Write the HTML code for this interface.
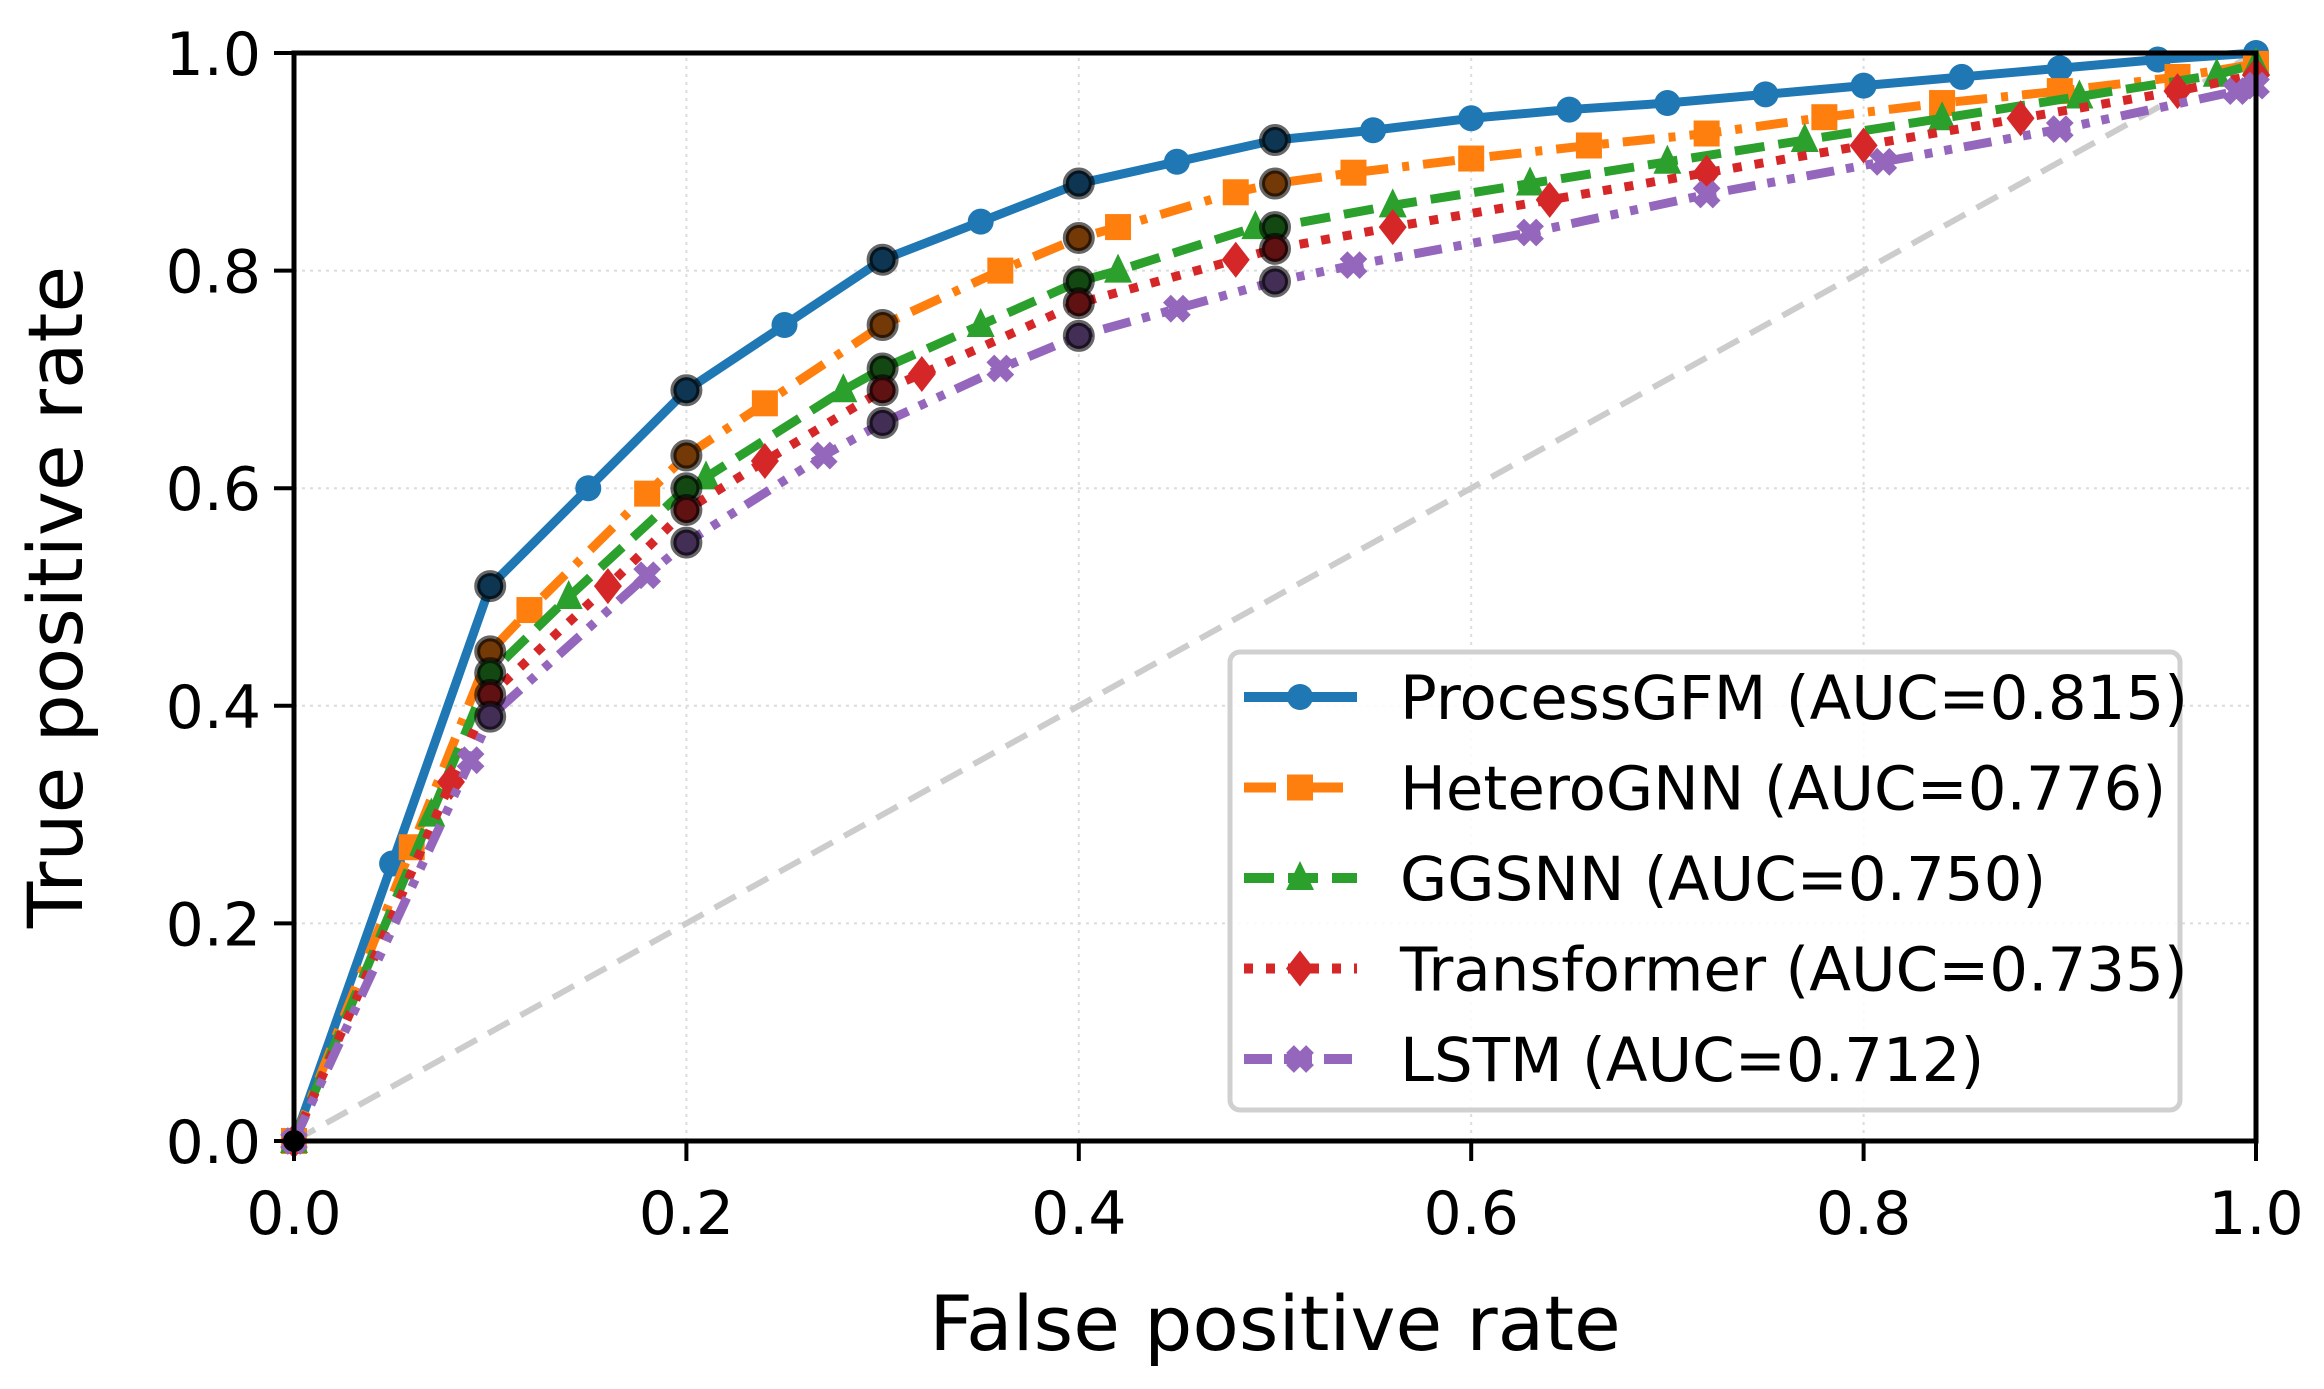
<!DOCTYPE html>
<html><head><meta charset="utf-8"><style>
html,body{margin:0;padding:0;background:#fff;}
svg{display:block;font-family:"DejaVu Sans","Liberation Sans",sans-serif;}
</style></head><body>
<svg id="chart" width="2324" height="1389" viewBox="0 0 2324 1389" xmlns="http://www.w3.org/2000/svg">
<g id="grid"></g>
<g id="series"></g>
<g id="axes"></g>
<g id="legend"></g>
</svg>
<script>
const tickValues = [0, 0.2, 0.4, 0.6, 0.8, 1.0];
const tickLabels = ["0.0", "0.2", "0.4", "0.6", "0.8", "1.0"];
const seriesNames = ["ProcessGFM (AUC=0.815)", "HeteroGNN (AUC=0.776)", "GGSNN (AUC=0.750)", "Transformer (AUC=0.735)", "LSTM (AUC=0.712)"];
const gfmFpr = [0, 0.05, 0.1, 0.15, 0.2, 0.25, 0.3, 0.35, 0.4, 0.45, 0.5, 0.55, 0.6, 0.65, 0.7, 0.75, 0.8, 0.85, 0.9, 0.95, 1.0];
const gfmTpr = [0, 0.255, 0.51, 0.60, 0.69, 0.75, 0.81, 0.845, 0.88, 0.90, 0.92, 0.929, 0.94, 0.948, 0.954, 0.962, 0.970, 0.978, 0.986, 0.994, 1.0];
const hetFpr = [0, 0.06, 0.1, 0.12, 0.18, 0.2, 0.24, 0.3, 0.36, 0.4, 0.42, 0.48, 0.5, 0.54, 0.6, 0.66, 0.72, 0.78, 0.84, 0.9, 0.96, 1.0];
const hetTpr = [0, 0.27, 0.45, 0.488, 0.595, 0.63, 0.678, 0.75, 0.80, 0.83, 0.84, 0.872, 0.88, 0.89, 0.903, 0.915, 0.926, 0.941, 0.954, 0.965, 0.978, 0.99];
const ggsFpr = [0, 0.07, 0.1, 0.14, 0.2, 0.21, 0.28, 0.3, 0.35, 0.4, 0.42, 0.49, 0.5, 0.56, 0.63, 0.7, 0.77, 0.84, 0.91, 0.98, 1.0];
const ggsTpr = [0, 0.30, 0.43, 0.50, 0.60, 0.61, 0.69, 0.71, 0.75, 0.79, 0.80, 0.84, 0.84, 0.86, 0.88, 0.90, 0.92, 0.94, 0.96, 0.98, 0.99];
const trfFpr = [0, 0.08, 0.1, 0.16, 0.2, 0.24, 0.3, 0.32, 0.4, 0.48, 0.5, 0.56, 0.64, 0.72, 0.8, 0.88, 0.96, 1.0];
const trfTpr = [0, 0.33, 0.41, 0.51, 0.58, 0.625, 0.69, 0.705, 0.77, 0.81, 0.82, 0.84, 0.865, 0.89, 0.915, 0.94, 0.965, 0.98];
const lstFpr = [0, 0.09, 0.1, 0.18, 0.2, 0.27, 0.3, 0.36, 0.4, 0.45, 0.5, 0.54, 0.63, 0.72, 0.81, 0.9, 0.99, 1.0];
const lstTpr = [0, 0.35, 0.39, 0.52, 0.55, 0.63, 0.66, 0.71, 0.74, 0.765, 0.79, 0.805, 0.835, 0.87, 0.90, 0.93, 0.965, 0.97];
const highlightFpr = [0.1, 0.2, 0.3, 0.4, 0.5];
</script>
<script>
const NS = "http://www.w3.org/2000/svg";
const X0 = 294, X1 = 2256, Y0 = 1141, Y1 = 53;
function sx(v){ return X0 + v * (X1 - X0); }
function sy(v){ return Y0 - v * (Y0 - Y1); }
function mk(tag, attrs, parent){
  const e = document.createElementNS(NS, tag);
  for (const k in attrs) e.setAttribute(k, attrs[k]);
  parent.appendChild(e);
  return e;
}
const grid = document.getElementById('grid');
const seriesG = document.getElementById('series');
const axes = document.getElementById('axes');
const legend = document.getElementById('legend');

tickValues.forEach((v, i) => {
  if (i === 0 || i === tickValues.length - 1) return;
  const gx = mk('line', {x1: sx(v), x2: sx(v), y1: Y0, y2: Y1, stroke: '#dcdcdc', 'stroke-width': 2, 'stroke-dasharray': '3 5'}, grid);
  
  
  const gy = mk('line', {x1: X0, x2: X1, y1: sy(v), y2: sy(v), stroke: '#dcdcdc', 'stroke-width': 2, 'stroke-dasharray': '3 5'}, grid);
  
  
});
const diag = mk('line', {x1: sx(0), y1: sy(0), x2: sx(1), y2: sy(1), stroke: '#cccccc', 'stroke-width': 6, 'stroke-dasharray': '24 13'}, grid);



const styles = [
  {fpr: gfmFpr, tpr: gfmTpr, color: '#1f77b4', dash: '', marker: 'circle', name: 'processgfm'},
  {fpr: hetFpr, tpr: hetTpr, color: '#ff7f0e', dash: '32 14 7 14', marker: 'square', name: 'heterognn'},
  {fpr: ggsFpr, tpr: ggsTpr, color: '#2ca02c', dash: '30 14', marker: 'triangle', name: 'ggsnn'},
  {fpr: trfFpr, tpr: trfTpr, color: '#d62728', dash: '9 13', marker: 'diamond', name: 'transformer'},
  {fpr: lstFpr, tpr: lstTpr, color: '#9467bd', dash: '28 12 8 12 8 12', marker: 'x', name: 'lstm'}
];

function drawMarker(type, x, y, color, parent){
  let e;
  if (type === 'circle') e = mk('circle', {cx: x, cy: y, r: 13, fill: color}, parent);
  else if (type === 'square') e = mk('rect', {x: x - 13, y: y - 13, width: 26, height: 26, fill: color}, parent);
  else if (type === 'triangle') e = mk('polygon', {points: `${x},${y-17} ${x-14},${y+12} ${x+14},${y+12}`, fill: color}, parent);
  else if (type === 'diamond') e = mk('polygon', {points: `${x},${y-18} ${x+14},${y} ${x},${y+18} ${x-14},${y}`, fill: color}, parent);
  else {
    e = mk('path', {d: `M${x-10},${y-10}L${x+10},${y+10}M${x+10},${y-10}L${x-10},${y+10}`, stroke: color, 'stroke-width': 11, 'stroke-linecap': 'butt'}, parent);
  }
  return e;
}

styles.forEach((s) => {
  const g = mk('g', {}, seriesG);
  
  
  const pts = s.fpr.map((f, i) => sx(f) + ',' + sy(s.tpr[i])).join(' ');
  const attrs = {points: pts, fill: 'none', stroke: s.color, 'stroke-width': 9, 'stroke-linejoin': 'round'};
  if (s.dash) attrs['stroke-dasharray'] = s.dash;
  const line = mk('polyline', attrs, g);
  
  
  s.fpr.forEach((f, i) => {
    if (highlightFpr.indexOf(f) >= 0) return;
    const m = drawMarker(s.marker, sx(f), sy(s.tpr[i]), s.color, g);
    
    
  });
});
styles.forEach((s) => {
  s.fpr.forEach((f, i) => {
    if (highlightFpr.indexOf(f) < 0) return;
    const c = mk('circle', {cx: sx(f), cy: sy(s.tpr[i]), r: 13, fill: s.color, stroke: 'rgba(0,0,0,0.6)', 'stroke-width': 6}, seriesG);
    
    
    const o = mk('circle', {cx: sx(f), cy: sy(s.tpr[i]), r: 13, fill: 'rgba(0,0,0,0.55)'}, seriesG);
    
    
  });
});
const origin = mk('circle', {cx: sx(0), cy: sy(0), r: 11, fill: '#000'}, seriesG);



const frame = mk('rect', {x: X0, y: Y1, width: X1 - X0, height: Y0 - Y1, fill: 'none', stroke: '#000', 'stroke-width': 5}, axes);


tickValues.forEach((v, i) => {
  const tx = mk('line', {x1: sx(v), x2: sx(v), y1: Y0, y2: Y0 + 20, stroke: '#000', 'stroke-width': 4}, axes);
  
  
  const lx = mk('text', {x: sx(v), y: Y0 + 93, 'text-anchor': 'middle', 'font-size': 60, fill: '#000'}, axes);
  lx.textContent = tickLabels[i];
  
  
  const ty = mk('line', {x1: X0 - 20, x2: X0, y1: sy(v), y2: sy(v), stroke: '#000', 'stroke-width': 4}, axes);
  
  
  const ly = mk('text', {x: X0 - 33, y: sy(v) + 22, 'text-anchor': 'end', 'font-size': 60, fill: '#000'}, axes);
  ly.textContent = tickLabels[i];
  
  
});
const xt = mk('text', {x: (X0 + X1) / 2, y: 1350, 'text-anchor': 'middle', 'font-size': 76, fill: '#000'}, axes);
xt.textContent = 'False positive rate';


const yt = mk('text', {x: 0, y: 0, 'text-anchor': 'middle', 'font-size': 76, fill: '#000', transform: `translate(82,${(Y0 + Y1) / 2}) rotate(-90)`}, axes);
yt.textContent = 'True positive rate';



const box = mk('rect', {x: 1230, y: 652, width: 950, height: 458, rx: 10, fill: 'rgba(255,255,255,0.85)', stroke: '#d0d0d0', 'stroke-width': 5}, legend);


styles.forEach((s, i) => {
  const y = 697 + i * 90.5;
  const g = mk('g', {}, legend);
  
  
  const a = {x1: 1244, x2: 1357, y1: y, y2: y, stroke: s.color, 'stroke-width': 10};
  if (s.dash) a['stroke-dasharray'] = s.dash;
  const h = mk('line', a, g);
  
  
  const m = drawMarker(s.marker, 1300, y, s.color, g);
  
  
  const t = mk('text', {x: 1400, y: y + 22, 'font-size': 61, fill: '#000'}, g);
  t.textContent = seriesNames[i];
  
  
});
</script>
</body></html>
